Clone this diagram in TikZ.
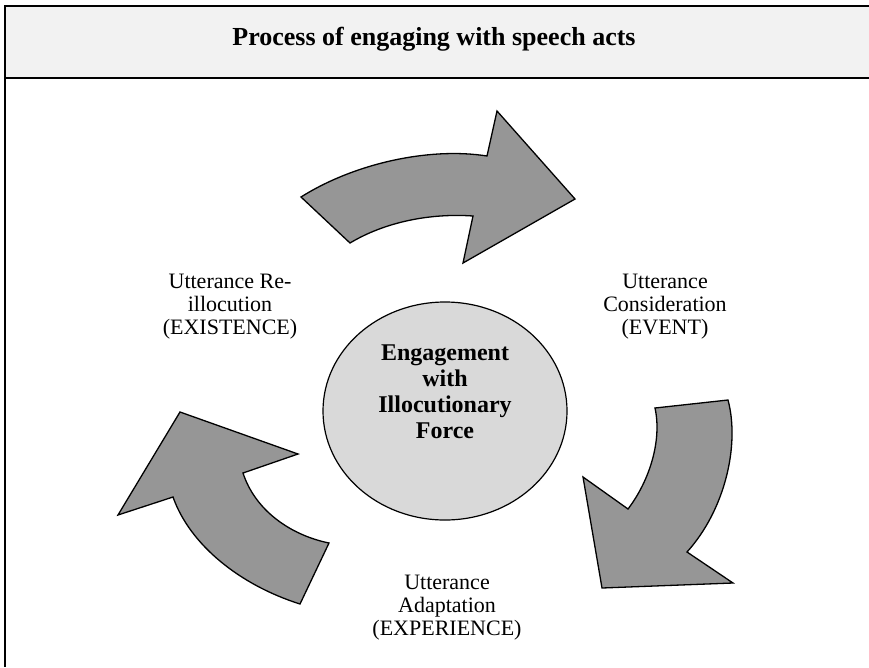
\documentclass[tikz,border=0pt]{standalone}
\usepackage{fontspec}
\setmainfont{Liberation Serif}
\definecolor{headgray}{RGB}{242,242,242}
\definecolor{arrowgray}{RGB}{150,150,150}
\definecolor{coregray}{RGB}{217,217,217}
\begin{document}
\begin{tikzpicture}[x=1pt,y=-1pt,
  bigarrow/.style={draw=black,line width=1.3pt,fill=arrowgray,line join=miter},
  steplabel/.style={align=center,inner sep=0pt,font=\fontsize{22}{23}\selectfont}]
  \useasboundingbox (0,0) rectangle (869,667);
  \fill[headgray] (5,6) rectangle (869,78);
  \draw[line width=2pt] (869,6) -- (5,6) -- (5,667);
  \draw[line width=2pt] (5,78) -- (869,78);
  \node (title) at (434,39) {\fontsize{26}{28}\selectfont\bfseries Process of engaging with speech acts};
  % top arrow
  \coordinate [] (ta1) at (301,197);
  \coordinate [] (ta2) at (350,243);
  \coordinate [] (ta3) at (473,216);
  \coordinate [] (ta4) at (463,263);
  \coordinate [] (ta5) at (575,199);
  \coordinate [] (ta6) at (497,111);
  \coordinate [] (ta7) at (487,156);
  \draw[bigarrow] (ta1) -- (ta2) .. controls (385,222) and (430,213) .. (ta3) -- (ta4) -- (ta5) -- (ta6) -- (ta7) .. controls (430,147) and (355,163) .. cycle;
  % right arrow
  \coordinate [] (ra1) at (655,408);
  \coordinate [] (ra2) at (728,400);
  \coordinate [] (ra3) at (687,552);
  \coordinate [] (ra4) at (733,583);
  \coordinate [] (ra5) at (602,588);
  \coordinate [] (ra6) at (583,477);
  \coordinate [] (ra7) at (628,509);
  \draw[bigarrow] (ra1) -- (ra2) .. controls (740,445) and (725,510) .. (ra3) -- (ra4) -- (ra5) -- (ra6) -- (ra7) .. controls (650,480) and (662,440) .. cycle;
  % left arrow
  \coordinate [] (la1) at (180,412);
  \coordinate [] (la2) at (298,454);
  \coordinate [] (la3) at (243,473);
  \coordinate [] (la4) at (329,543);
  \coordinate [] (la5) at (300,604);
  \coordinate [] (la6) at (173,497);
  \coordinate [] (la7) at (118,515);
  \draw[bigarrow] (la1) -- (la2) -- (la3) .. controls (255,510) and (290,535) .. (la4) -- (la5) .. controls (240,585) and (190,545) .. (la6) -- (la7) -- cycle;
  % centre
  \draw[line width=1.2pt,fill=coregray] (445,411) ellipse [x radius=122, y radius=109];
  \node (core) [align=center,inner sep=0pt,font=\fontsize{24}{26}\selectfont\bfseries] at (445,392) {Engagement\\with\\Illocutionary\\Force};
  \node (reillo) [steplabel] at (230,307) {Utterance Re-\\illocution\\(EXISTENCE)};
  \node (consider) [steplabel] at (665,307) {Utterance\\Consideration\\(EVENT)};
  \node (adapt) [steplabel] at (447,608) {Utterance\\Adaptation\\(EXPERIENCE)};
\end{tikzpicture}
\end{document}
